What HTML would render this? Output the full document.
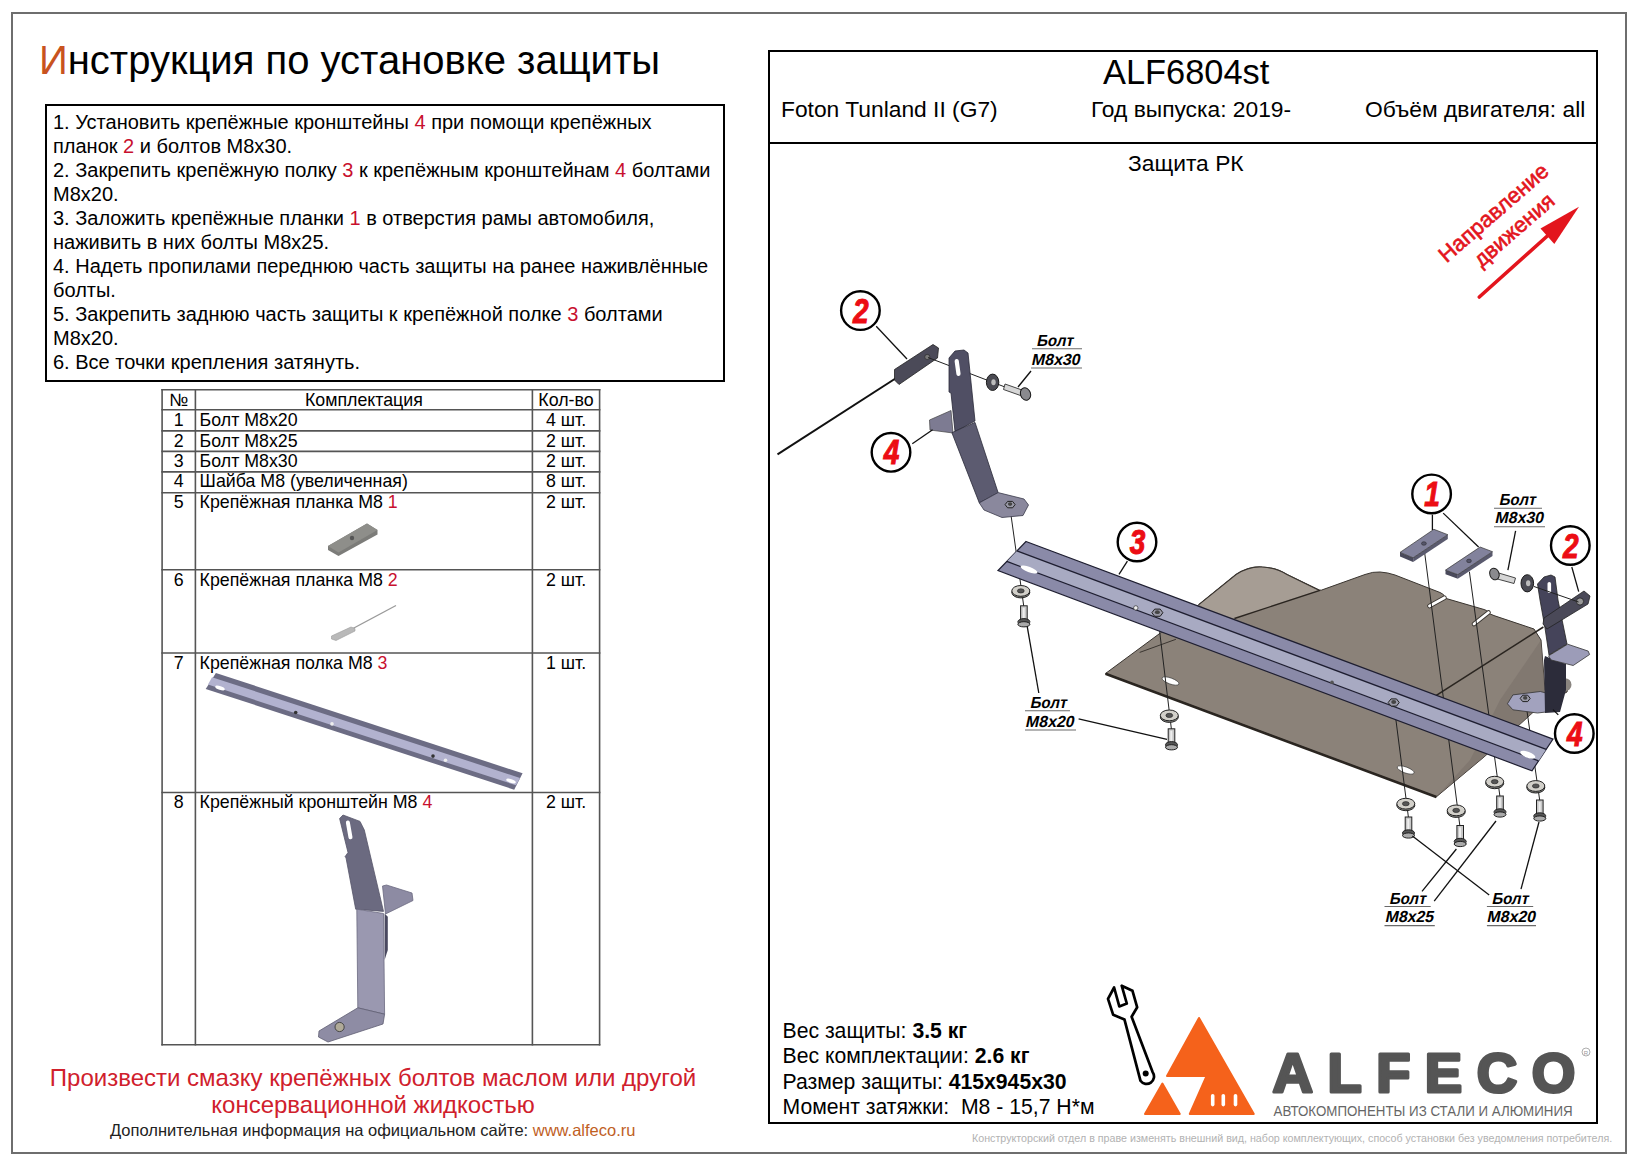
<!DOCTYPE html>
<html><head><meta charset="utf-8"><style>
*{margin:0;padding:0;box-sizing:border-box}
html,body{width:1642px;height:1168px;overflow:hidden;background:#fff}
body{position:relative;font-family:"Liberation Sans",sans-serif;color:#000}
.a{position:absolute;white-space:pre;line-height:1}
.r{color:#c8102e}
#outer{position:absolute;left:11px;top:12px;width:1616px;height:1142px;border:2px solid #6e6e6e}
#ibox{position:absolute;left:44.5px;top:104px;width:680px;height:277.5px;border:2px solid #000}
#itext{position:absolute;left:53px;top:110px;font-size:20px;line-height:24px;white-space:pre}
#rpanel{position:absolute;left:768px;top:50px;width:830px;height:1074px;border:2px solid #000}
#rsep{position:absolute;left:768px;top:142px;width:830px;height:2px;background:#000}
.t{position:absolute;white-space:pre;line-height:1;font-size:17.8px}
.bl{position:absolute;white-space:pre;line-height:1;font-size:16px;font-weight:bold;font-style:italic}
svg{position:absolute;left:0;top:0}
</style></head><body>
<svg width="1642" height="1168" viewBox="0 0 1642 1168"><line x1="161.3" y1="389.7" x2="600.4" y2="389.7" stroke="#555" stroke-width="1.6"/><line x1="161.3" y1="409.7" x2="600.4" y2="409.7" stroke="#555" stroke-width="1.6"/><line x1="161.3" y1="430.9" x2="600.4" y2="430.9" stroke="#555" stroke-width="1.6"/><line x1="161.3" y1="451.4" x2="600.4" y2="451.4" stroke="#555" stroke-width="1.6"/><line x1="161.3" y1="471.9" x2="600.4" y2="471.9" stroke="#555" stroke-width="1.6"/><line x1="161.3" y1="492.7" x2="600.4" y2="492.7" stroke="#555" stroke-width="1.6"/><line x1="161.3" y1="569.8" x2="600.4" y2="569.8" stroke="#555" stroke-width="1.6"/><line x1="161.3" y1="653" x2="600.4" y2="653" stroke="#555" stroke-width="1.6"/><line x1="161.3" y1="792.5" x2="600.4" y2="792.5" stroke="#555" stroke-width="1.6"/><line x1="161.3" y1="1044.7" x2="600.4" y2="1044.7" stroke="#555" stroke-width="1.6"/><line x1="162.1" y1="389" x2="162.1" y2="1045.5" stroke="#555" stroke-width="1.6"/><line x1="195.4" y1="389" x2="195.4" y2="1045.5" stroke="#555" stroke-width="1.6"/><line x1="532.4" y1="389" x2="532.4" y2="1045.5" stroke="#555" stroke-width="1.6"/><line x1="599.6" y1="389" x2="599.6" y2="1045.5" stroke="#555" stroke-width="1.6"/><polygon points="328.0,546.0 367.0,523.5 377.5,530.0 377.5,534.5 338.5,556.0 328.0,550.0" fill="#7c7c79"/><polygon points="328.0,546.0 367.0,523.5 377.5,530.0 338.5,552.5" fill="#8e8e8a"/><circle cx="352" cy="538" r="2.2" fill="#555"/><line x1="352" y1="629" x2="396" y2="605.5" stroke="#9a9a9a" stroke-width="1.4"/><polygon points="331.5,636.0 351.0,627.0 355.0,628.5 355.0,631.0 336.0,640.5 331.5,639.0" fill="#b9b9b9" stroke="#9a9a9a" stroke-width="0.6"/><polygon points="215.9,673.0 522.6,773.3 514.2,789.7 205.7,688.9" fill="#6c6c84"/><polygon points="212.0,677.2 520.0,777.9 516.0,785.3 208.0,684.6" fill="#b2b2cf"/><ellipse cx="220" cy="688" rx="5" ry="1.8" fill="#fff" transform="rotate(18 220 688)"/><ellipse cx="511" cy="781" rx="5" ry="1.8" fill="#fff" transform="rotate(18 511 781)"/><circle cx="295.7" cy="712.5" r="1.8" fill="#333"/><circle cx="332" cy="723.9" r="1.8" fill="#eee"/><circle cx="433" cy="756.1" r="1.8" fill="#333"/><circle cx="445.5" cy="760.3" r="1.8" fill="#eee"/><polygon points="339.6,818.5 343.0,815.0 360.0,821.4 364.3,830.0 383.5,911.4 355.7,909.2 346.0,857.8 345.0,856.8 348.0,852.5" fill="#6b6a80" stroke="#555468" stroke-width="0.8"/><rect x="347.2" y="820.5" width="4" height="19" rx="2" fill="#fff" transform="rotate(-10 349 830)"/><polygon points="382.5,886.0 386.5,885.0 412.0,893.0 413.0,900.5 385.5,914.0" fill="#8d8ba3" stroke="#6b6a80" stroke-width="0.8"/><polygon points="384.6,913.5 387.8,916.7 387.8,950.0 384.6,960.0" fill="#4a4960"/><polygon points="356.8,909.2 383.5,913.5 384.6,1014.2 357.8,1007.8" fill="#9a98b0" stroke="#6b6a80" stroke-width="0.8"/><polygon points="357.8,1007.8 384.6,1014.2 383.0,1024.0 328.0,1042.0 318.5,1037.0 319.0,1031.0" fill="#8e8ca4" stroke="#5f5e72" stroke-width="0.8"/><circle cx="339.6" cy="1027" r="4.6" fill="#b0aa98" stroke="#444" stroke-width="1"/><path d="M1105.5,673.5 L1159,634 L1198.8,604.6 L1236,574.5 Q1249,566 1262,567 Q1276,567.5 1287,574.5 L1319,590.1 L1321.5,590.1 L1365,574.5 Q1373,571.5 1380,572 Q1388,572.5 1395,575 L1440,592.5 Q1446,595.5 1443.9,597.6 L1446.5,598.6 L1484,609.5 Q1490,611.5 1487.8,613 L1494,615.6 L1534,629 L1541,640 L1545,690 L1569,683 L1567,692 L1540,706 L1484,757 L1436.4,796.8 Z" fill="#8b8279" stroke="#3a3530" stroke-width="1"/><path d="M1198.8,604.6 L1236,574.5 Q1249,566 1262,567 Q1276,567.5 1287,574.5 L1319,590.1 L1234.4,618.5 L1215,614 Z" fill="#a69d94"/><path d="M1198.8,604.6 L1236,574.5 Q1249,566 1262,567 Q1276,567.5 1287,574.5 L1319,590.1" fill="none" stroke="#3a3530" stroke-width="1.2"/><line x1="1234.4" y1="618.5" x2="1320" y2="590.3" stroke="#2a2520" stroke-width="1.4"/><line x1="1139.7" y1="652.4" x2="1175.9" y2="639.3" stroke="#3a3530" stroke-width="1"/><path d="M1541,640 L1545,690 L1540,706 L1484,757 L1436.4,796.8 L1470,760 L1500,700 Z" fill="#7b726b" opacity="0.6"/><line x1="1105.5" y1="673.8" x2="1436.4" y2="797" stroke="#2a2520" stroke-width="2.6"/><line x1="1444.5" y1="597.8" x2="1429.5" y2="606" stroke="#3a3530" stroke-width="4.6" stroke-linecap="round"/><line x1="1444.5" y1="597.8" x2="1429.5" y2="606" stroke="#fff" stroke-width="2.8" stroke-linecap="round"/><line x1="1488.5" y1="612.5" x2="1474" y2="624" stroke="#3a3530" stroke-width="4.6" stroke-linecap="round"/><line x1="1488.5" y1="612.5" x2="1474" y2="624" stroke="#fff" stroke-width="2.8" stroke-linecap="round"/><ellipse cx="1170.5" cy="681" rx="9" ry="3" fill="#fff" stroke="#333" stroke-width="0.6" transform="rotate(20 1170.5 681)"/><ellipse cx="1405.7" cy="770" rx="9" ry="3" fill="#fff" stroke="#333" stroke-width="0.6" transform="rotate(20 1405.7 770)"/><line x1="1431.6" y1="698.4" x2="1543.4" y2="627" stroke="#2a2520" stroke-width="1.6"/><line x1="1010" y1="508" x2="1024" y2="608" stroke="#222" stroke-width="1"/><line x1="1157.4" y1="612.7" x2="1171.5" y2="730" stroke="#222" stroke-width="1"/><line x1="1424.7" y1="553" x2="1460" y2="827" stroke="#222" stroke-width="1"/><line x1="1469.4" y1="571.7" x2="1500" y2="797" stroke="#222" stroke-width="1"/><line x1="1393.7" y1="702.5" x2="1408.5" y2="818" stroke="#222" stroke-width="1"/><line x1="1525.2" y1="698.4" x2="1539.8" y2="801" stroke="#222" stroke-width="1"/><polygon points="1026.0,541.5 1553.0,739.1 1532.0,770.8 998.0,570.6" fill="#8a8aa8" stroke="#1e1e30" stroke-width="1.2"/><polygon points="1016.9,550.9 1546.2,749.3 1538.6,760.9 1006.8,561.4" fill="#a8aac2" /><line x1="1016.9" y1="550.9" x2="1546.2" y2="749.3" stroke="#1e1e30" stroke-width="1.3"/><line x1="1006.8" y1="561.4" x2="1538.6" y2="760.9" stroke="#1e1e30" stroke-width="1.3"/><ellipse cx="1029" cy="569.5" rx="9" ry="2.6" fill="#fff" transform="rotate(21 1029 569.5)"/><ellipse cx="1527.8" cy="754.7" rx="8" ry="3" fill="#fff" transform="rotate(21 1527.8 754.7)"/><circle cx="1135.8" cy="607.9" r="2.2" fill="#eee" stroke="#333" stroke-width="0.7"/><circle cx="1332" cy="682.2" r="1.8" fill="#555"/><polygon points="1162.9,612.7 1160.2,616.3 1154.7,616.3 1151.9,612.7 1154.7,609.1 1160.2,609.1" fill="#9a9aa8" stroke="#222" stroke-width="1"/><ellipse cx="1157.4" cy="612.2" rx="2.5" ry="1.9" fill="#444"/><polygon points="1399.2,702.5 1396.5,706.1 1391.0,706.1 1388.2,702.5 1391.0,698.9 1396.5,698.9" fill="#9a9aa8" stroke="#222" stroke-width="1"/><ellipse cx="1393.7" cy="702.0" rx="2.5" ry="1.9" fill="#444"/><line x1="777.5" y1="454.4" x2="897" y2="377.5" stroke="#111" stroke-width="2"/><polygon points="894.5,369.5 933.0,344.5 938.5,348.0 937.5,358.0 899.0,384.5 894.5,380.0" fill="#4b4a58" stroke="#222" stroke-width="0.8"/><circle cx="927.3" cy="357" r="2.6" fill="#777" stroke="#222" stroke-width="0.6"/><line x1="928" y1="357.5" x2="1005" y2="387" stroke="#222" stroke-width="1"/><polygon points="929.5,420.0 951.0,410.5 953.0,433.0 930.0,430.0" fill="#7d7b92" stroke="#444" stroke-width="0.7"/><polygon points="949.0,358.0 955.0,351.0 964.0,350.0 968.0,353.0 975.0,421.0 955.0,431.5 951.0,393.0 949.0,392.0" fill="#504f64" stroke="#2a2a38" stroke-width="0.8"/><rect x="955.5" y="359" width="4.2" height="17" rx="2.1" fill="#fff" transform="rotate(-8 957.6 367.5)"/><polygon points="951.9,432.7 975.0,422.4 998.1,492.6 979.3,502.9" fill="#5c5b70" stroke="#2a2a38" stroke-width="0.8"/><polygon points="979.3,502.9 998.1,492.6 1024.0,499.0 1028.5,505.0 1023.0,515.5 1002.0,517.5 984.0,510.0" fill="#8a889d" stroke="#3a3a4a" stroke-width="0.8"/><polygon points="1015.1,504.6 1012.6,507.8 1007.6,507.8 1005.1,504.6 1007.6,501.4 1012.6,501.4" fill="#9a9aa8" stroke="#222" stroke-width="1"/><ellipse cx="1010.1" cy="504.1" rx="2.2" ry="1.8" fill="#444"/><ellipse cx="992.6" cy="382.3" rx="6.2" ry="8.2" fill="#4a4a52" stroke="#1a1a1a" stroke-width="1"/><ellipse cx="993.5" cy="382.3" rx="2.2" ry="3" fill="#bbb"/><polygon points="1005.0,384.0 1022.0,390.0 1020.5,395.5 1003.5,389.5" fill="#d6d6d6" stroke="#333" stroke-width="0.9"/><ellipse cx="1025.5" cy="394" rx="5" ry="6.3" fill="#8a8a8e" stroke="#1a1a1a" stroke-width="1" transform="rotate(-20 1025.5 394)"/><polygon points="1400.0,552.4 1413.1,557.8 1413.1,562.0 1400.0,556.6" fill="#4a4a5c"/><polygon points="1413.1,557.8 1447.8,534.7 1447.8,538.9 1413.1,562.0" fill="#5a5a6e"/><polygon points="1400.0,552.4 1433.9,529.3 1447.8,534.7 1413.1,557.8" fill="#82829c" stroke="#333" stroke-width="0.7"/><ellipse cx="1423.9" cy="543.5" rx="2.4" ry="1.8" fill="#55556a" stroke="#222" stroke-width="0.5"/><polygon points="1445.5,570.1 1457.8,574.6 1457.8,578.8 1445.5,574.3" fill="#4a4a5c"/><polygon points="1457.8,574.6 1492.5,551.7 1492.5,555.9 1457.8,578.8" fill="#5a5a6e"/><polygon points="1445.5,570.1 1480.1,547.0 1492.5,551.7 1457.8,574.6" fill="#82829c" stroke="#333" stroke-width="0.7"/><ellipse cx="1469.0" cy="560.9" rx="2.4" ry="1.8" fill="#55556a" stroke="#222" stroke-width="0.5"/><polygon points="1507.4,703.8 1512.9,694.9 1540.3,691.5 1546.0,693.0 1546.0,712.0 1537.5,713.0 1512.9,709.8" fill="#a2a2be" stroke="#333" stroke-width="0.8"/><polygon points="1530.2,698.4 1527.7,701.6 1522.7,701.6 1520.2,698.4 1522.7,695.2 1527.7,695.2" fill="#9a9aa8" stroke="#222" stroke-width="1"/><ellipse cx="1525.2" cy="697.9" rx="2.2" ry="1.8" fill="#444"/><circle cx="1565" cy="684.7" r="6.5" fill="#8a8580"/><polygon points="1545.0,656.0 1552.0,659.0 1566.0,664.0 1566.0,690.0 1560.0,712.0 1545.0,713.0 1544.0,660.0" fill="#2c2c3a"/><polygon points="1548.5,655.9 1567.7,644.2 1588.2,651.1 1589.6,654.5 1573.2,665.5 1551.2,660.0" fill="#9c9cb8" stroke="#333" stroke-width="0.8"/><polygon points="1537.5,584.0 1544.0,577.0 1551.0,575.0 1555.0,577.0 1558.0,600.0 1567.0,644.0 1549.0,655.0 1545.0,628.0 1540.0,600.0" fill="#45445a" stroke="#222" stroke-width="0.8"/><rect x="1547.5" y="582" width="3.6" height="11" rx="1.8" fill="#fff"/><polygon points="1544.0,618.0 1584.0,591.0 1590.0,596.0 1588.0,604.0 1547.0,629.0 1543.0,624.0" fill="#4a4958" stroke="#222" stroke-width="0.8"/><circle cx="1580" cy="601.5" r="3.6" fill="#999" stroke="#222" stroke-width="0.8"/><line x1="1534" y1="586.5" x2="1578.6" y2="602" stroke="#222" stroke-width="1"/><ellipse cx="1527.3" cy="583.3" rx="6.3" ry="8.6" fill="#4a4a52" stroke="#1a1a1a" stroke-width="1"/><ellipse cx="1528.2" cy="583.3" rx="2.2" ry="3" fill="#bbb"/><polygon points="1497.0,572.5 1515.5,578.0 1514.0,583.5 1495.5,578.5" fill="#d6d6d6" stroke="#333" stroke-width="0.9"/><ellipse cx="1494.4" cy="574" rx="4.6" ry="6" fill="#8a8a8e" stroke="#1a1a1a" stroke-width="1" transform="rotate(-20 1494.4 574)"/><ellipse cx="1020.8" cy="592.5" rx="9" ry="5.4" fill="#8a8a86" stroke="#222" stroke-width="1"/><ellipse cx="1020.8" cy="590.9" rx="9" ry="5.4" fill="#d2d0ca" stroke="#222" stroke-width="1"/><ellipse cx="1020.8" cy="590.9" rx="3.4" ry="2.1" fill="#555" stroke="#222" stroke-width="0.6"/><ellipse cx="1169.3" cy="717.0" rx="9" ry="5.4" fill="#8a8a86" stroke="#222" stroke-width="1"/><ellipse cx="1169.3" cy="715.4" rx="9" ry="5.4" fill="#d2d0ca" stroke="#222" stroke-width="1"/><ellipse cx="1169.3" cy="715.4" rx="3.4" ry="2.1" fill="#555" stroke="#222" stroke-width="0.6"/><ellipse cx="1405.8" cy="805.3000000000001" rx="9" ry="5.4" fill="#8a8a86" stroke="#222" stroke-width="1"/><ellipse cx="1405.8" cy="803.7" rx="9" ry="5.4" fill="#d2d0ca" stroke="#222" stroke-width="1"/><ellipse cx="1405.8" cy="803.7" rx="3.4" ry="2.1" fill="#555" stroke="#222" stroke-width="0.6"/><ellipse cx="1456.2" cy="812.0" rx="9" ry="5.4" fill="#8a8a86" stroke="#222" stroke-width="1"/><ellipse cx="1456.2" cy="810.4" rx="9" ry="5.4" fill="#d2d0ca" stroke="#222" stroke-width="1"/><ellipse cx="1456.2" cy="810.4" rx="3.4" ry="2.1" fill="#555" stroke="#222" stroke-width="0.6"/><ellipse cx="1494.7" cy="783.3000000000001" rx="9" ry="5.4" fill="#8a8a86" stroke="#222" stroke-width="1"/><ellipse cx="1494.7" cy="781.7" rx="9" ry="5.4" fill="#d2d0ca" stroke="#222" stroke-width="1"/><ellipse cx="1494.7" cy="781.7" rx="3.4" ry="2.1" fill="#555" stroke="#222" stroke-width="0.6"/><ellipse cx="1535.8" cy="787.6" rx="9" ry="5.4" fill="#8a8a86" stroke="#222" stroke-width="1"/><ellipse cx="1535.8" cy="786" rx="9" ry="5.4" fill="#d2d0ca" stroke="#222" stroke-width="1"/><ellipse cx="1535.8" cy="786" rx="3.4" ry="2.1" fill="#555" stroke="#222" stroke-width="0.6"/><rect x="1020.6" y="605.8" width="6.6" height="14" fill="#c8c8c8" stroke="#222" stroke-width="1"/><rect x="1022.6999999999999" y="607.8" width="2" height="11" fill="#eee"/><ellipse cx="1023.9" cy="621.8" rx="6" ry="3.2" fill="#555" stroke="#222" stroke-width="1"/><rect x="1017.9" y="621.3" width="12" height="3" fill="#555"/><ellipse cx="1023.9" cy="624.3" rx="6" ry="2.6" fill="#aaa" stroke="#222" stroke-width="1"/><rect x="1168.2" y="728.8" width="6.6" height="14" fill="#c8c8c8" stroke="#222" stroke-width="1"/><rect x="1170.3" y="730.8" width="2" height="11" fill="#eee"/><ellipse cx="1171.5" cy="744.8" rx="6" ry="3.2" fill="#555" stroke="#222" stroke-width="1"/><rect x="1165.5" y="744.3" width="12" height="3" fill="#555"/><ellipse cx="1171.5" cy="747.3" rx="6" ry="2.6" fill="#aaa" stroke="#222" stroke-width="1"/><rect x="1405.2" y="817" width="6.6" height="14" fill="#c8c8c8" stroke="#222" stroke-width="1"/><rect x="1407.3" y="819" width="2" height="11" fill="#eee"/><ellipse cx="1408.5" cy="833" rx="6" ry="3.2" fill="#555" stroke="#222" stroke-width="1"/><rect x="1402.5" y="832.5" width="12" height="3" fill="#555"/><ellipse cx="1408.5" cy="835.5" rx="6" ry="2.6" fill="#aaa" stroke="#222" stroke-width="1"/><rect x="1456.9" y="825.5" width="6.6" height="14" fill="#c8c8c8" stroke="#222" stroke-width="1"/><rect x="1459.0" y="827.5" width="2" height="11" fill="#eee"/><ellipse cx="1460.2" cy="841.5" rx="6" ry="3.2" fill="#555" stroke="#222" stroke-width="1"/><rect x="1454.2" y="841.0" width="12" height="3" fill="#555"/><ellipse cx="1460.2" cy="844.0" rx="6" ry="2.6" fill="#aaa" stroke="#222" stroke-width="1"/><rect x="1496.7" y="796" width="6.6" height="14" fill="#c8c8c8" stroke="#222" stroke-width="1"/><rect x="1498.8" y="798" width="2" height="11" fill="#eee"/><ellipse cx="1500" cy="812" rx="6" ry="3.2" fill="#555" stroke="#222" stroke-width="1"/><rect x="1494" y="811.5" width="12" height="3" fill="#555"/><ellipse cx="1500" cy="814.5" rx="6" ry="2.6" fill="#aaa" stroke="#222" stroke-width="1"/><rect x="1536.5" y="800" width="6.6" height="14" fill="#c8c8c8" stroke="#222" stroke-width="1"/><rect x="1538.6" y="802" width="2" height="11" fill="#eee"/><ellipse cx="1539.8" cy="816" rx="6" ry="3.2" fill="#555" stroke="#222" stroke-width="1"/><rect x="1533.8" y="815.5" width="12" height="3" fill="#555"/><ellipse cx="1539.8" cy="818.5" rx="6" ry="2.6" fill="#aaa" stroke="#222" stroke-width="1"/><line x1="876.2" y1="326.2" x2="907" y2="359" stroke="#111" stroke-width="1.3"/><line x1="912.3" y1="443.7" x2="932.6" y2="429.8" stroke="#111" stroke-width="1.3"/><line x1="1127.4" y1="561.1" x2="1119" y2="574.3" stroke="#111" stroke-width="1.3"/><line x1="1432.4" y1="514.7" x2="1432.4" y2="530" stroke="#111" stroke-width="1.3"/><line x1="1443.2" y1="513.1" x2="1478.6" y2="547" stroke="#111" stroke-width="1.3"/><line x1="1571.8" y1="567" x2="1578.7" y2="591.7" stroke="#111" stroke-width="1.3"/><line x1="1558.3" y1="714.9" x2="1553" y2="709.6" stroke="#111" stroke-width="1.3"/><line x1="1031" y1="371" x2="1018" y2="387" stroke="#111" stroke-width="1.3"/><line x1="1515.6" y1="530.9" x2="1507.9" y2="570.1" stroke="#111" stroke-width="1.3"/><line x1="1038.8" y1="693" x2="1027.2" y2="626.3" stroke="#111" stroke-width="1.3"/><line x1="1078.6" y1="718.8" x2="1167" y2="739.3" stroke="#111" stroke-width="1.3"/><line x1="1422" y1="891.4" x2="1456.4" y2="849" stroke="#111" stroke-width="1.3"/><line x1="1434.2" y1="901.2" x2="1496" y2="821" stroke="#111" stroke-width="1.3"/><line x1="1489.2" y1="894.9" x2="1412.4" y2="836" stroke="#111" stroke-width="1.3"/><line x1="1521" y1="889.1" x2="1539" y2="822" stroke="#111" stroke-width="1.3"/><circle cx="860.4" cy="310.6" r="19.3" fill="#fff" stroke="#000" stroke-width="2.4"/><text transform="translate(860.9,322.6) scale(0.8,1)" text-anchor="middle" font-family="Liberation Sans" font-weight="bold" font-style="italic" font-size="35" fill="#ec0d14" stroke="#ec0d14" stroke-width="1.1">2</text><circle cx="891" cy="452.3" r="19.3" fill="#fff" stroke="#000" stroke-width="2.4"/><text transform="translate(891.5,464.3) scale(0.8,1)" text-anchor="middle" font-family="Liberation Sans" font-weight="bold" font-style="italic" font-size="35" fill="#ec0d14" stroke="#ec0d14" stroke-width="1.1">4</text><circle cx="1137" cy="542" r="19.3" fill="#fff" stroke="#000" stroke-width="2.4"/><text transform="translate(1137.5,554) scale(0.8,1)" text-anchor="middle" font-family="Liberation Sans" font-weight="bold" font-style="italic" font-size="35" fill="#ec0d14" stroke="#ec0d14" stroke-width="1.1">3</text><circle cx="1431.6" cy="493.9" r="19.3" fill="#fff" stroke="#000" stroke-width="2.4"/><text transform="translate(1432.1,505.9) scale(0.8,1)" text-anchor="middle" font-family="Liberation Sans" font-weight="bold" font-style="italic" font-size="35" fill="#ec0d14" stroke="#ec0d14" stroke-width="1.1">1</text><circle cx="1570.3" cy="545.5" r="19.3" fill="#fff" stroke="#000" stroke-width="2.4"/><text transform="translate(1570.8,557.5) scale(0.8,1)" text-anchor="middle" font-family="Liberation Sans" font-weight="bold" font-style="italic" font-size="35" fill="#ec0d14" stroke="#ec0d14" stroke-width="1.1">2</text><circle cx="1574.3" cy="733.5" r="19.3" fill="#fff" stroke="#000" stroke-width="2.4"/><text transform="translate(1574.8,745.5) scale(0.8,1)" text-anchor="middle" font-family="Liberation Sans" font-weight="bold" font-style="italic" font-size="35" fill="#ec0d14" stroke="#ec0d14" stroke-width="1.1">4</text><text transform="translate(1036.3,345.90000000000003) skewX(-12)" font-family="Liberation Sans" font-weight="bold" font-size="16" textLength="36.5" lengthAdjust="spacingAndGlyphs">Болт</text><text transform="translate(1031.1,364.5) skewX(-12)" font-family="Liberation Sans" font-weight="bold" font-size="16" textLength="48.5" lengthAdjust="spacingAndGlyphs">M8x30</text><line x1="1032" y1="348.8" x2="1082" y2="348.8" stroke="#6a6a6a" stroke-width="1.1"/><line x1="1031" y1="368.0" x2="1082" y2="368.0" stroke="#6a6a6a" stroke-width="1.1"/><text transform="translate(1029.8,707.8000000000001) skewX(-12)" font-family="Liberation Sans" font-weight="bold" font-size="16" textLength="36.5" lengthAdjust="spacingAndGlyphs">Болт</text><text transform="translate(1025.1,726.5) skewX(-12)" font-family="Liberation Sans" font-weight="bold" font-size="16" textLength="48.5" lengthAdjust="spacingAndGlyphs">M8x20</text><line x1="1025" y1="710.7" x2="1070" y2="710.7" stroke="#6a6a6a" stroke-width="1.1"/><line x1="1025" y1="730.0" x2="1076" y2="730.0" stroke="#6a6a6a" stroke-width="1.1"/><text transform="translate(1498.8,505.3) skewX(-12)" font-family="Liberation Sans" font-weight="bold" font-size="16" textLength="36.5" lengthAdjust="spacingAndGlyphs">Болт</text><text transform="translate(1494.6,523.2) skewX(-12)" font-family="Liberation Sans" font-weight="bold" font-size="16" textLength="48.5" lengthAdjust="spacingAndGlyphs">M8x30</text><line x1="1494" y1="508.2" x2="1542" y2="508.2" stroke="#6a6a6a" stroke-width="1.1"/><line x1="1494" y1="526.7" x2="1545" y2="526.7" stroke="#6a6a6a" stroke-width="1.1"/><text transform="translate(1389.0,903.6) skewX(-12)" font-family="Liberation Sans" font-weight="bold" font-size="16" textLength="36.5" lengthAdjust="spacingAndGlyphs">Болт</text><text transform="translate(1384.6999999999998,922.1) skewX(-12)" font-family="Liberation Sans" font-weight="bold" font-size="16" textLength="48.5" lengthAdjust="spacingAndGlyphs">M8x25</text><line x1="1384.5" y1="906.5" x2="1430.7" y2="906.5" stroke="#6a6a6a" stroke-width="1.1"/><line x1="1384.5" y1="925.6" x2="1434.8" y2="925.6" stroke="#6a6a6a" stroke-width="1.1"/><text transform="translate(1491.5,903.6) skewX(-12)" font-family="Liberation Sans" font-weight="bold" font-size="16" textLength="36.5" lengthAdjust="spacingAndGlyphs">Болт</text><text transform="translate(1486.6,922.1) skewX(-12)" font-family="Liberation Sans" font-weight="bold" font-size="16" textLength="48.5" lengthAdjust="spacingAndGlyphs">M8x20</text><line x1="1486.9" y1="906.5" x2="1533.2" y2="906.5" stroke="#6a6a6a" stroke-width="1.1"/><line x1="1486.9" y1="925.6" x2="1536" y2="925.6" stroke="#6a6a6a" stroke-width="1.1"/><line x1="1479.3" y1="297" x2="1549" y2="234.5" stroke="#e3151d" stroke-width="3.6" stroke-linecap="round"/><polygon points="1579.0,206.8 1540.5,228.6 1554.3,243.9" fill="#e3151d"/><text transform="translate(1446.6,263.4) rotate(-41)" font-family="Liberation Sans" font-size="22" fill="#e3151d" stroke="#e3151d" stroke-width="0.6">Направление</text><text transform="translate(1481.4,268) rotate(-41)" font-family="Liberation Sans" font-size="21.8" fill="#e3151d" stroke="#e3151d" stroke-width="0.6">движения</text><polygon points="1199.0,1018.0 1253.8,1114.0 1189.8,1114.0 1206.6,1076.0 1167.0,1076.0" fill="#f5621b" stroke="#f5621b" stroke-width="2" stroke-linejoin="round"/><polygon points="1162.4,1083.5 1179.8,1114.0 1145.0,1114.0" fill="#f5621b" stroke="#f5621b" stroke-width="2" stroke-linejoin="round"/><rect x="1210.9" y="1094" width="3.6" height="12.4" rx="1.8" fill="#fff"/><rect x="1221.5" y="1094" width="3.6" height="12.4" rx="1.8" fill="#fff"/><rect x="1233.7" y="1094" width="3.6" height="12.4" rx="1.8" fill="#fff"/><text x="1272.5" y="1091.8" font-family="Liberation Sans" font-weight="bold" font-size="56" fill="#555" stroke="#555" stroke-width="3.2" stroke-linejoin="round" letter-spacing="14.5">ALFECO</text><text x="1273.6" y="1115.5" font-family="Liberation Sans" font-size="14.5" fill="#666" textLength="299" lengthAdjust="spacingAndGlyphs">АВТОКОМПОНЕНТЫ ИЗ СТАЛИ И АЛЮМИНИЯ</text><circle cx="1586" cy="1052" r="4" fill="none" stroke="#999" stroke-width="0.8"/><text x="1586" y="1054.5" text-anchor="middle" font-family="Liberation Sans" font-size="6" fill="#999">R</text><path d="M1114.1,987.5 L1119.3,1006.4 L1126.8,1003.5 L1121.7,985.7 L1132.5,990.8 L1137.2,1007.3 L1131.6,1016.7 L1152.7,1072.3 A6.2,6.2 0 0 1 1140.5,1080.8 L1124.5,1019.6 L1113.2,1014.8 L1108,998.8 Z" fill="#fff" stroke="#000" stroke-width="2.7" stroke-linejoin="round"/><circle cx="1145.7" cy="1073.4" r="3" fill="#000"/></svg>
<div id="outer"></div>
<div class="a" style="left:39px;top:40px;font-size:40px"><span style="color:#c8531f">И</span>нструкция по установке защиты</div>
<div id="ibox"></div>
<div id="itext">1. Установить крепёжные кронштейны <span class="r">4</span> при помощи крепёжных
планок <span class="r">2</span> и болтов M8x30.
2. Закрепить крепёжную полку <span class="r">3</span> к крепёжным кронштейнам <span class="r">4</span> болтами
M8x20.
3. Заложить крепёжные планки <span class="r">1</span> в отверстия рамы автомобиля,
наживить в них болты M8x25.
4. Надеть пропилами переднюю часть защиты на ранее наживлённые
болты.
5. Закрепить заднюю часть защиты к крепёжной полке <span class="r">3</span> болтами
M8x20.
6. Все точки крепления затянуть.</div>
<div class="t" style="left:162px;width:33.4px;text-align:center;top:391.6px">№</div>
<div class="t" style="left:195.4px;width:337px;text-align:center;top:391.6px">Комплектация</div>
<div class="t" style="left:532.4px;width:67.2px;text-align:center;top:391.6px">Кол-во</div>
<div class="t" style="left:162px;width:33.4px;text-align:center;top:411.6px">1</div>
<div class="t" style="left:199.6px;top:411.6px">Болт M8x20</div>
<div class="t" style="left:532.4px;width:67.2px;text-align:center;top:411.6px">4 шт.</div>
<div class="t" style="left:162px;width:33.4px;text-align:center;top:432.6px">2</div>
<div class="t" style="left:199.6px;top:432.6px">Болт M8x25</div>
<div class="t" style="left:532.4px;width:67.2px;text-align:center;top:432.6px">2 шт.</div>
<div class="t" style="left:162px;width:33.4px;text-align:center;top:452.8px">3</div>
<div class="t" style="left:199.6px;top:452.8px">Болт M8x30</div>
<div class="t" style="left:532.4px;width:67.2px;text-align:center;top:452.8px">2 шт.</div>
<div class="t" style="left:162px;width:33.4px;text-align:center;top:473.2px">4</div>
<div class="t" style="left:199.6px;top:473.2px">Шайба M8 (увеличенная)</div>
<div class="t" style="left:532.4px;width:67.2px;text-align:center;top:473.2px">8 шт.</div>
<div class="t" style="left:162px;width:33.4px;text-align:center;top:494.3px">5</div>
<div class="t" style="left:199.6px;top:494.3px">Крепёжная планка M8 <span class="r">1</span></div>
<div class="t" style="left:532.4px;width:67.2px;text-align:center;top:494.3px">2 шт.</div>
<div class="t" style="left:162px;width:33.4px;text-align:center;top:572.0px">6</div>
<div class="t" style="left:199.6px;top:572.0px">Крепёжная планка M8 <span class="r">2</span></div>
<div class="t" style="left:532.4px;width:67.2px;text-align:center;top:572.0px">2 шт.</div>
<div class="t" style="left:162px;width:33.4px;text-align:center;top:655.2px">7</div>
<div class="t" style="left:199.6px;top:655.2px">Крепёжная полка M8 <span class="r">3</span></div>
<div class="t" style="left:532.4px;width:67.2px;text-align:center;top:655.2px">1 шт.</div>
<div class="t" style="left:162px;width:33.4px;text-align:center;top:794.0px">8</div>
<div class="t" style="left:199.6px;top:794.0px">Крепёжный кронштейн M8 <span class="r">4</span></div>
<div class="t" style="left:532.4px;width:67.2px;text-align:center;top:794.0px">2 шт.</div>
<div class="a" style="left:0;width:746px;text-align:center;top:1063.6px;font-size:24px;line-height:27.3px;color:#d0202c">Произвести смазку крепёжных болтов маслом или другой
консервационной жидкостью</div>
<div class="a" style="left:110px;top:1122.2px;font-size:16.5px;color:#222">Дополнительная информация на официальном сайте: <span style="color:#c0601f">www.alfeco.ru</span></div>
<div id="rpanel"></div><div id="rsep"></div>
<div class="a" style="left:1103px;top:55px;font-size:34.4px">ALF6804st</div>
<div class="a" style="left:781px;top:98px;font-size:22.8px">Foton Tunland II (G7)</div>
<div class="a" style="left:1091px;top:98px;font-size:22.8px">Год выпуска: 2019-</div>
<div class="a" style="left:1365px;top:98px;font-size:22.8px">Объём двигателя: all</div>
<div class="a" style="left:1128px;top:152px;font-size:22.8px">Защита РК</div>
<div class="a" style="left:782.5px;top:1017.9px;font-size:21.2px;line-height:25.45px">Вес защиты: <b>3.5 кг</b>
Вес комплектации: <b>2.6 кг</b>
Размер защиты: <b>415x945x30</b>
Момент затяжки:  M8 - 15,7 Н*м</div>
<div class="a" style="left:972px;top:1133px;font-size:10.7px;color:#b2b2b2">Конструкторский отдел в праве изменять внешний вид, набор комплектующих, способ установки без уведомления потребителя.</div>
</body></html>
